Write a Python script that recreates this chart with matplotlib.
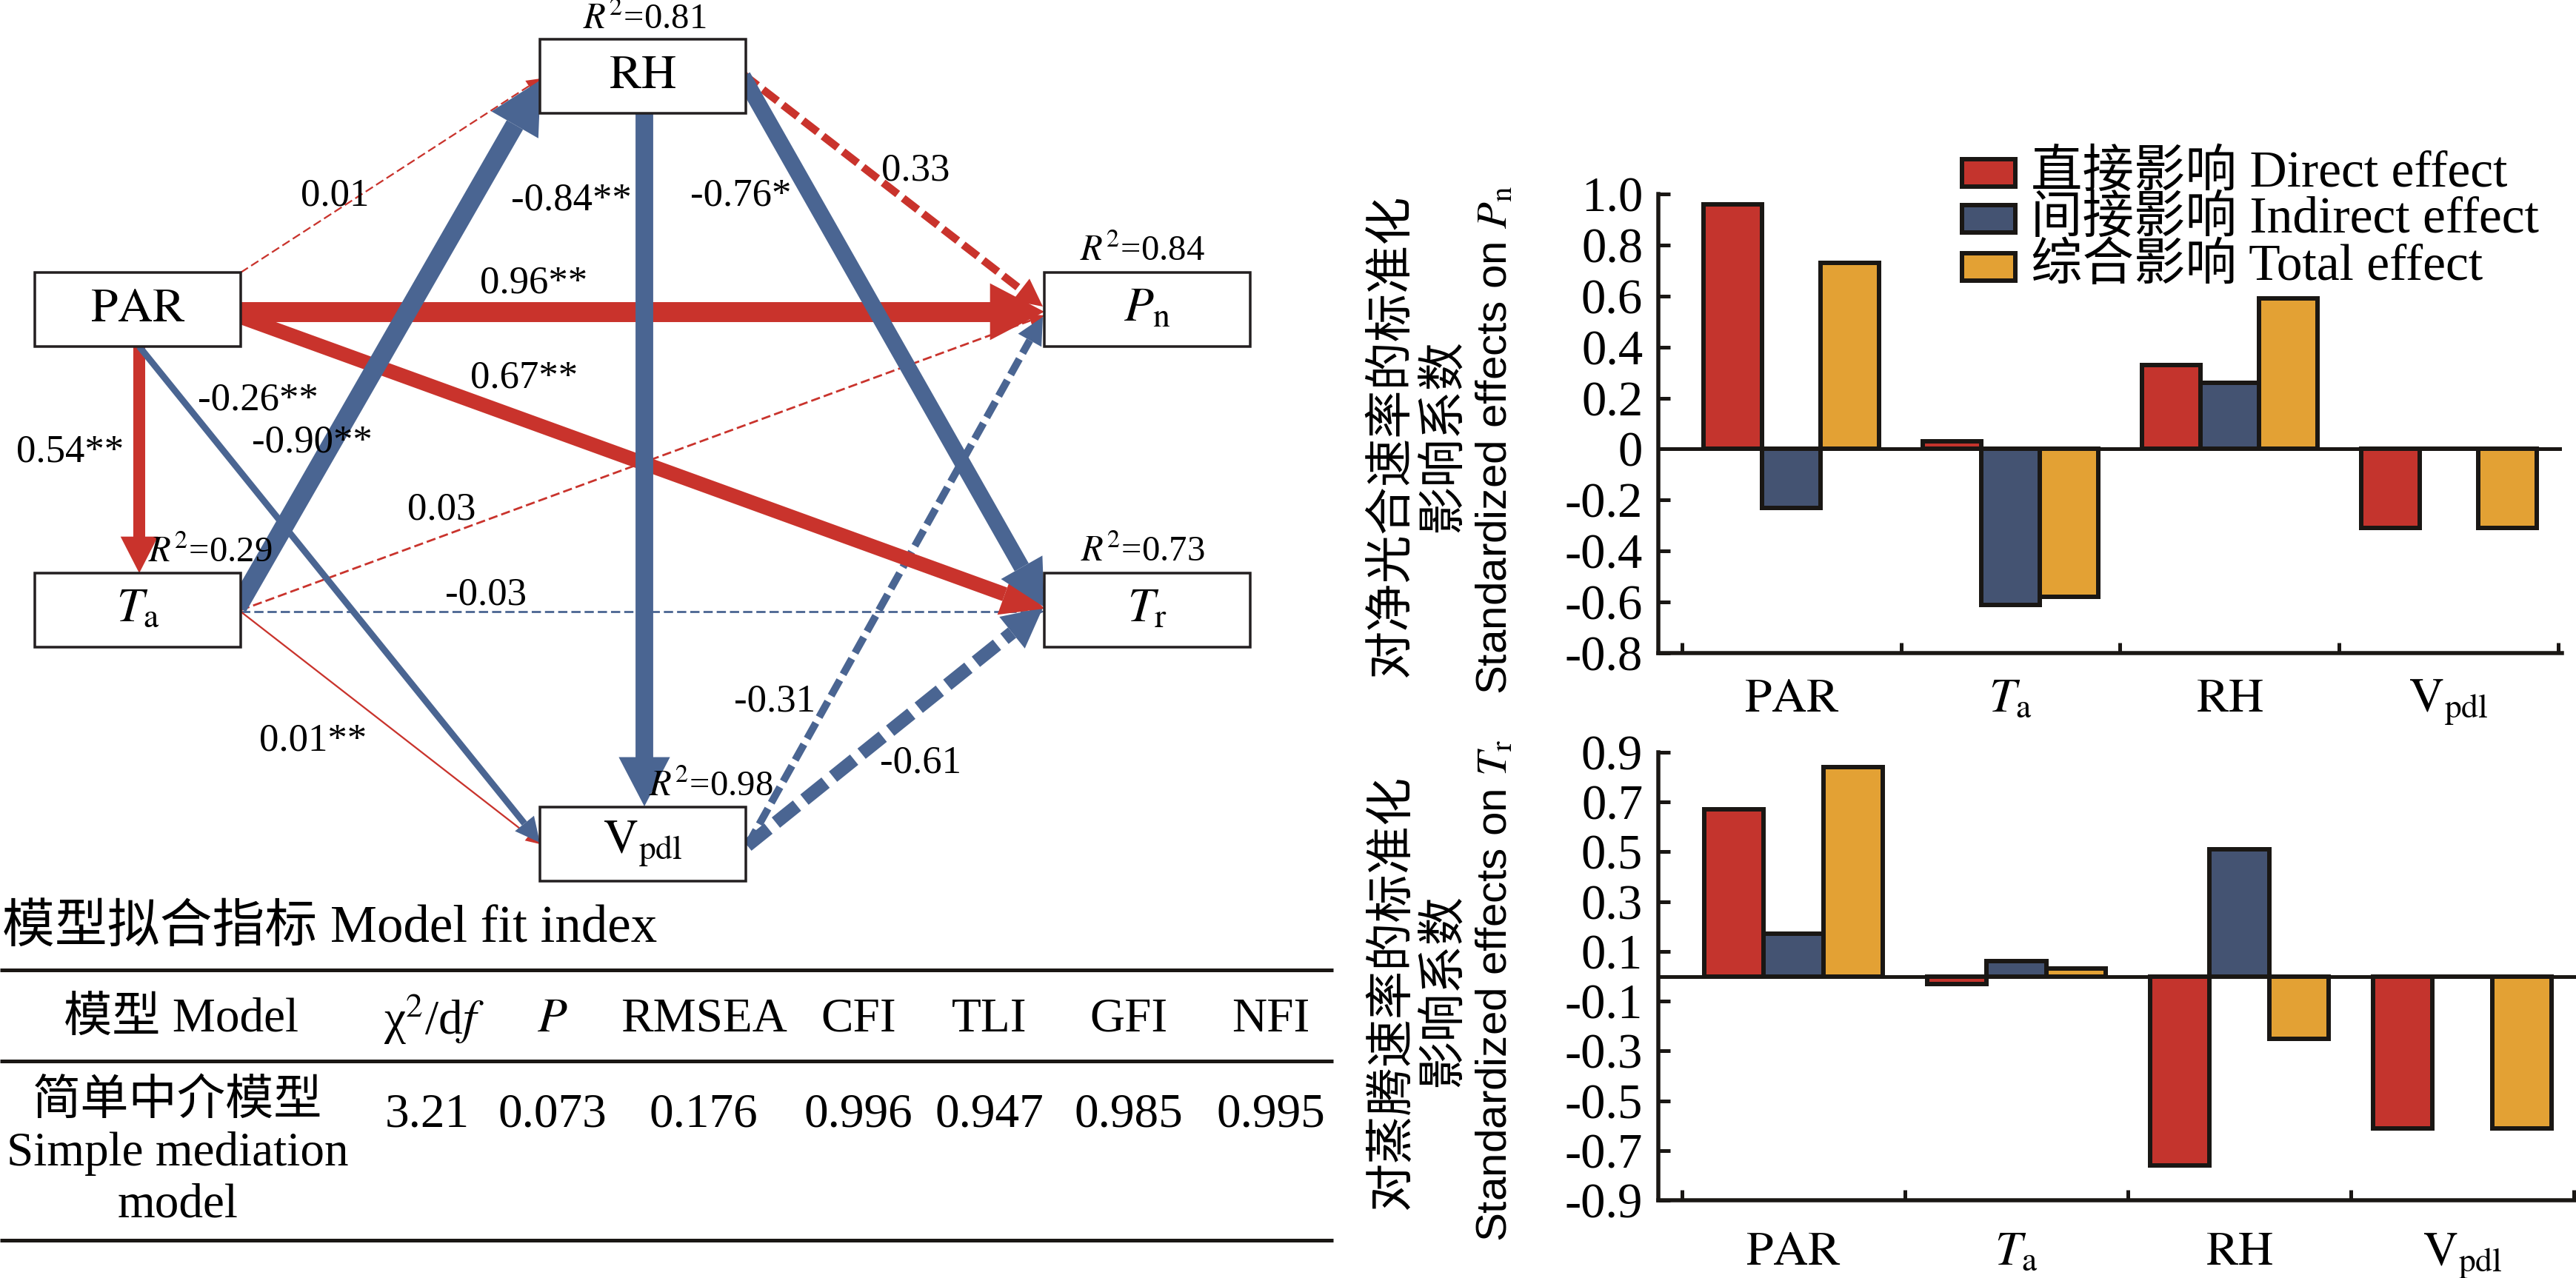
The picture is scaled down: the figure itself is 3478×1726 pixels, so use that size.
import matplotlib
matplotlib.use('Agg')
import matplotlib.pyplot as plt
from matplotlib.patches import Rectangle, Polygon
import numpy as np

plt.rcParams['mathtext.fontset'] = 'stix'
plt.rcParams['font.family'] = ['Liberation Serif', 'Noto Sans CJK SC']
plt.rcParams['lines.scale_dashes'] = False

# ---------------- data ----------------
categories = ['PAR', 'Ta', 'RH', 'Vpdl']
cat_labels = [r'$\mathrm{PAR}$', r'$T_\mathrm{a}$', r'$\mathrm{RH}$', r'$\mathrm{V}_\mathrm{pdl}$']
series_names = ['直接影响 Direct effect', '间接影响 Indirect effect', '综合影响 Total effect']
pn_direct = [0.96, 0.03, 0.33, -0.31]
pn_indirect = [-0.23, -0.61, 0.26, 0.0]
pn_total = [0.73, -0.58, 0.59, -0.31]
tr_direct = [0.67, -0.03, -0.76, -0.61]
tr_indirect = [0.17, 0.06, 0.51, 0.0]
tr_total = [0.84, 0.03, -0.25, -0.61]
pn_yticks = [1.0, 0.8, 0.6, 0.4, 0.2, 0.0, -0.2, -0.4, -0.6, -0.8]
tr_yticks = [0.9, 0.7, 0.5, 0.3, 0.1, -0.1, -0.3, -0.5, -0.7, -0.9]

path_from = ['PAR', 'PAR', 'PAR', 'PAR', 'PAR', 'Ta', 'Ta', 'Ta', 'Ta', 'RH', 'RH', 'RH', 'Vpdl', 'Vpdl']
path_to = ['RH', 'Pn', 'Tr', 'Ta', 'Vpdl', 'RH', 'Pn', 'Tr', 'Vpdl', 'Vpdl', 'Pn', 'Tr', 'Pn', 'Tr']
path_coef = [0.01, 0.96, 0.67, 0.54, -0.26, -0.90, 0.03, -0.03, 0.01, -0.84, 0.33, -0.76, -0.31, -0.61]
path_sig = ['', '**', '**', '**', '**', '**', '', '', '**', '**', '', '*', '', '']
r2_nodes = ['RH', 'Pn', 'Tr', 'Ta', 'Vpdl']
r2_values = [0.81, 0.84, 0.73, 0.29, 0.98]

fit_title = '模型拟合指标 Model fit index'
fit_headers = ['模型 Model', 'χ$^{2}$/d$f$', '$P$', 'RMSEA', 'CFI', 'TLI', 'GFI', 'NFI']
fit_model_lines = ['简单中介模型', 'Simple mediation', 'model']
fit_values = ['3.21', '0.073', '0.176', '0.996', '0.947', '0.985', '0.995']

# ---------------- layout (pixel coordinates) ----------------
W, H, DPI = 3478, 1726, 100
PT = 72.0 / DPI
RED_P, BLUE_P = '#C9332C', '#4A6592'
C_RED, C_BLUE, C_YEL = '#C4342D', '#445372', '#E3A134'
EDGE = '#1a1714'

node_center = {'PAR': (186, 418), 'RH': (868, 103), 'Pn': (1549, 418),
               'Ta': (186, 824), 'Tr': (1549, 824), 'Vpdl': (868, 1140)}
node_text = {'PAR': r'$\mathrm{PAR}$', 'RH': r'$\mathrm{RH}$', 'Pn': r'$P_\mathrm{n}$',
             'Ta': r'$T_\mathrm{a}$', 'Tr': r'$T_\mathrm{r}$', 'Vpdl': r'$\mathrm{V}_\mathrm{pdl}$'}
BOX_W, BOX_H = 278, 100
path_ports = [((325, 368), (730, 106)), ((325, 421), (1410, 421)), ((325, 428), (1410, 822)),
              ((188, 468), (188, 774)), ((188, 468), (729, 1138)), ((321, 820), (730, 108)),
              ((325, 824), (1410, 426)), ((325, 826), (1410, 826)), ((325, 826), (729, 1140)),
              ((870, 153), (870, 1089)), ((1003, 100), (1408, 414)), ((1003, 103), (1410, 820)),
              ((1009, 1142), (1408, 428)), ((1009, 1142), (1408, 821))]
path_label_pos = [(452, 264), (721, 382), (708, 510), (95, 610), (348, 540), (421, 597),
                  (596, 688), (656, 803), (423, 1000), (771, 270), (1236, 230), (1000, 265),
                  (1046, 947), (1243, 1030)]
r2_pos = {'RH': (870, 26), 'Pn': (1542, 339), 'Tr': (1543, 745), 'Ta': (284, 746), 'Vpdl': (960, 1062)}

fig = plt.figure(figsize=(W / DPI, H / DPI), dpi=DPI)
ax_d = fig.add_axes([0, 0, 1, 1])
ax_d.set_xlim(0, W)
ax_d.set_ylim(H, 0)
ax_d.axis('off')

# ---------------- path diagram ----------------
order = sorted(range(len(path_coef)), key=lambda i: (path_sig[i] != '', abs(path_coef[i])))
for i in order:
    c, s = path_coef[i], path_sig[i]
    (x0, y0), (x1, y1) = path_ports[i]
    w = 2 + 26 * abs(c)
    col = RED_P if c > 0 else BLUE_P
    dashed = (s == '')
    L = 2.2 * w + 14
    HW = 2.4 * w + 12
    d = np.array([x1 - x0, y1 - y0], float)
    u = d / np.hypot(*d)
    n = np.array([-u[1], u[0]])
    tip = np.array([x1, y1], float)
    base = tip - L * u
    z = 2 + (0 if dashed else 1) + (0.5 if c < 0 else 0)
    ln, = ax_d.plot([x0, base[0]], [y0, base[1]], color=col, lw=w * PT,
                    solid_capstyle='butt', dash_capstyle='butt', zorder=z)
    if dashed:
        ln.set_linestyle((0, ((1.6 * w + 8) * PT, (0.5 * w + 4) * PT)))
    ax_d.add_patch(Polygon([tip, base + HW / 2 * n, base - HW / 2 * n], closed=True,
                           fc=col, ec='none', zorder=z))
    lx, ly = path_label_pos[i]
    ax_d.text(lx, ly, f'{c:.2f}{s}', fontsize=38, ha='center', va='center', zorder=6)

for k, (cx, cy) in node_center.items():
    ax_d.add_patch(Rectangle((cx - BOX_W / 2, cy - BOX_H / 2), BOX_W, BOX_H, fc='white',
                             ec='#231f20', lw=3.5 * PT, zorder=5))
    ax_d.text(cx, cy, node_text[k], fontsize=47, ha='center', va='center', zorder=6)

for k, v in zip(r2_nodes, r2_values):
    x, y = r2_pos[k]
    ax_d.text(x, y, r'$R^{2}$=' + f'{v:.2f}', fontsize=35, ha='center', va='center', zorder=6)

# ---------------- fit table ----------------
ax_d.text(3, 1254, fit_title, fontsize=51, ha='left', va='center')
for yy in (1310, 1433, 1675):
    ax_d.plot([0, 1800], [yy, yy], color=EDGE, lw=5 * PT, solid_capstyle='butt')
head_x = [244, 586, 746, 950, 1159, 1336, 1524, 1716]
for x, t in zip(head_x, fit_headers):
    ax_d.text(x, 1377, t, fontsize=47, ha='center', va='center')
for t, y in zip(fit_model_lines, [1489, 1558, 1628]):
    ax_d.text(240, y, t, fontsize=47, ha='center', va='center')
for x, t in zip(head_x[1:], fit_values):
    ax_d.text(x + (-9 if x == 586 else 0), 1506, t, fontsize=47, ha='center', va='center')

# ---------------- bar charts ----------------
def panel(rect_px, xlim, direct, indirect, total, yticks, ylim, pad):
    l, r, t, b = rect_px
    ax = fig.add_axes([l / W, 1 - b / H, (r - l) / W, (b - t) / H])
    ax.patch.set_visible(False)
    x = np.arange(len(categories))
    bw = 0.267
    for off, vals, col in zip([-bw, 0, bw], [direct, indirect, total], [C_RED, C_BLUE, C_YEL]):
        ax.bar(x + off, vals, width=bw, color=col, edgecolor=EDGE, linewidth=6 * PT, zorder=2)
    ax.axhline(0, color=EDGE, lw=5 * PT, zorder=3)
    ax.set_xlim(*xlim)
    ax.set_ylim(*ylim)
    for sp in ('top', 'right'):
        ax.spines[sp].set_visible(False)
    for sp in ('left', 'bottom'):
        ax.spines[sp].set_linewidth(5.5 * PT)
        ax.spines[sp].set_color(EDGE)
    ax.set_xticks([-0.5, 0.5, 1.5, 2.5, 3.5])
    ax.set_xticklabels([])
    ax.set_xticks(x, minor=True)
    ax.set_xticklabels(cat_labels, minor=True)
    ax.tick_params(axis='x', which='major', direction='in', length=14 * PT, width=5 * PT, color=EDGE)
    ax.tick_params(axis='x', which='minor', length=0, pad=pad, labelsize=47)
    ax.set_yticks(yticks)
    ax.set_yticklabels(['0' if abs(v) < 1e-9 else f'{v:.1f}' for v in yticks])
    ax.tick_params(axis='y', direction='in', length=16 * PT, width=5 * PT, color=EDGE,
                   pad=15, labelsize=48)
    return ax

ax1 = panel((2239, 3459, 262, 882), (-0.608, 3.517), pn_direct, pn_indirect, pn_total,
            pn_yticks, (-0.8, 1.0), 24)
ax2 = panel((2239, 3478, 1016, 1621), (-0.606, 3.51), tr_direct, tr_indirect, tr_total,
            tr_yticks, (-0.9, 0.9), 30)

# y labels
ax_d.text(1880, 589, '对净光合速率的标准化', rotation=90, fontsize=47, ha='center', va='center')
ax_d.text(1950, 588, '影响系数', rotation=90, fontsize=47, ha='center', va='center')
ax_d.text(2019, 595, r'Standardized effects on $P_\mathrm{n}$', rotation=90, fontsize=42,
          family=['Liberation Sans'], ha='center', va='center')
ax_d.text(1880, 1340, '对蒸腾速率的标准化', rotation=90, fontsize=47, ha='center', va='center')
ax_d.text(1950, 1337, '影响系数', rotation=90, fontsize=47, ha='center', va='center')
ax_d.text(2019, 1338, r'Standardized effects on $T_\mathrm{r}$', rotation=90, fontsize=42,
          family=['Liberation Sans'], ha='center', va='center')

# legend
for name, col, yc in zip(series_names, [C_RED, C_BLUE, C_YEL], [234, 296, 361]):
    ax_d.add_patch(Rectangle((2649, yc - 18.5), 72, 37, fc=col, ec=EDGE, lw=6 * PT, zorder=4))
    ax_d.text(2742, yc, name, fontsize=50, ha='left', va='center')

fig.savefig('out.png', dpi=DPI)
